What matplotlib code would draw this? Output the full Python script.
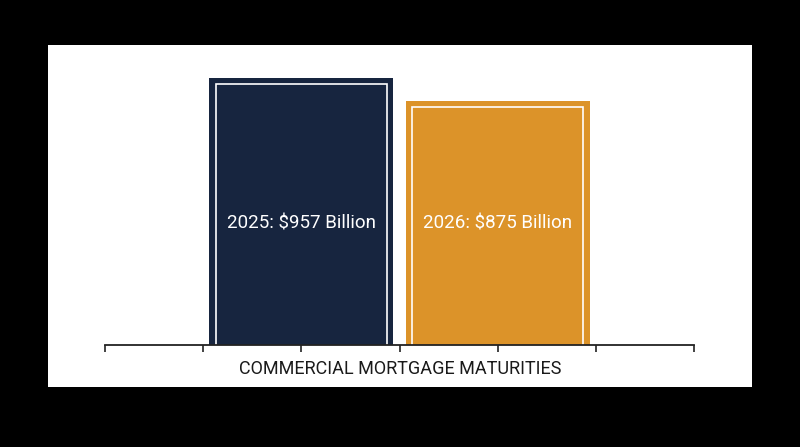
import matplotlib
matplotlib.use("Agg")
import matplotlib.pyplot as plt
from matplotlib.patches import Rectangle

categories = ["2025", "2026"]
values = [957, 875]
labels = ["2025: $957 Billion", "2026: $875 Billion"]
colors = ["#17253f", "#dc9329"]
xlabel = "COMMERCIAL MORTGAGE MATURITIES"

W, H = 800, 447
fig = plt.figure(figsize=(W / 100, H / 100), dpi=100, facecolor="black")

# white panel
fig.patches.append(Rectangle((48 / W, 1 - 387 / H), (752 - 48) / W, (387 - 45) / H,
                             transform=fig.transFigure, facecolor="white",
                             edgecolor="none", zorder=-10))

ax_l, ax_r = 105 / W, 694 / W
ax_b = 1 - 344.5 / H
ax_t = 1 - 66 / H
ax = fig.add_axes([ax_l, ax_b, ax_r - ax_l, ax_t - ax_b])
ax.set_zorder(5)
ax.set_facecolor("none")
ax.set_xlim(-1, 2)
ax.set_ylim(0, 1000)

x = list(range(len(values)))
bw = 0.937
ax.bar(x, values, width=bw, color=colors, edgecolor="none", zorder=2)

# inner white outlines
px_x = 196.3  # pixels per x unit
px_y = 0.2785  # pixels per y unit
inset = 6.5
for xi, v in zip(x, values):
    w_in = bw - 2 * inset / px_x
    h_in = v - inset / px_y
    ax.plot([xi - w_in / 2, xi - w_in / 2, xi + w_in / 2, xi + w_in / 2],
            [0, h_in, h_in, 0], color="white", lw=1.2, zorder=3,
            solid_joinstyle="miter")

for xi, lab in zip(x, labels):
    ax.text(xi, 436, lab, color="white", ha="center", va="center",
            fontsize=13.5, family="Roboto", zorder=4)

for s in ["top", "right", "left"]:
    ax.spines[s].set_visible(False)
ax.spines["bottom"].set_color("#222222")
ax.spines["bottom"].set_linewidth(1.3)
ax.spines["bottom"].set_zorder(5)
ax.set_yticks([])
ax.set_xticks([-1, -0.5, 0, 0.5, 1, 1.5, 2])
ax.set_xticklabels([])
ax.tick_params(axis="x", direction="out", length=5, width=1.2, color="#222222")

fig.text(0.5, 1 - 369 / H, xlabel, ha="center", va="center", fontsize=13,
         family="Roboto", color="#1a1a1a", zorder=6)

fig.savefig("out.png", dpi=100, facecolor="black")
